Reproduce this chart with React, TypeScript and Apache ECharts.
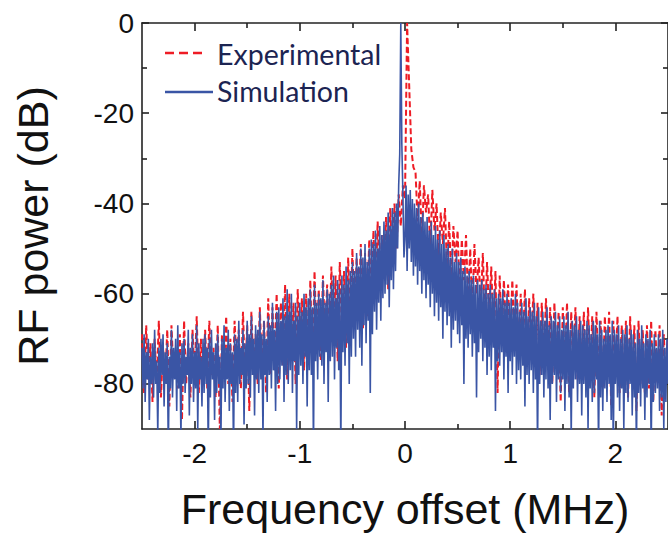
import React, { useEffect, useRef } from "react";
import * as echarts from "echarts";

// Frequency grids of the two traces (MHz)
const expStart = -2.5;
const expStep = 0.02;
const simStart = -2.5;
const simStep = 0.01;

// Experimental RF power (dB), one value per 0.02 MHz
const experimental = [
  -69,-82,-67,-79,-71,-84,-70,-80,-66,-83,
  -72,-80,-68,-85,-67,-78,-73,-81,-69,-88,
  -66,-80,-71,-83,-68,-78,-65,-82,-70,-79,
  -68,-81,-66,-78,-72,-83,-67,-90,-69,-77,
  -65,-80,-70,-84,-66,-76,-68,-81,-64,-79,
  -67,-86,-64,-78,-69,-80,-63,-77,-66,-82,
  -61,-78,-63,-75,-60,-81,-62,-76,-58,-79,
  -60,-75,-62,-80,-59,-73,-61,-77,-60,-74,
  -57,-77,-55,-72,-59,-75,-56,-70,-58,-73,
  -54,-70,-56,-75,-53,-68,-55,-72,-52,-70,
  -50,-67,-52,-64,-49,-68,-51,-65,-48,-63,
  -46,-60,-44,-58,-47,-56,-43,-59,-41,-54,
  -40,-50,-38,-45,-36,-39,0,-14,-28,-32,
  -33,-44,-35,-48,-36,-42,-38,-50,-37,-46,
  -40,-52,-42,-49,-41,-55,-44,-58,-45,-53,
  -46,-60,-48,-57,-47,-62,-50,-64,-49,-60,
  -52,-63,-51,-67,-53,-65,-54,-68,-55,-82,
  -56,-70,-57,-68,-58,-72,-57,-69,-58,-74,
  -60,-72,-59,-76,-61,-71,-60,-74,-62,-78,
  -62,-75,-61,-73,-63,-80,-62,-76,-64,-84,
  -63,-77,-62,-82,-64,-75,-63,-79,-65,-77,
  -64,-80,-63,-77,-65,-83,-64,-78,-66,-81,
  -65,-79,-64,-85,-66,-78,-65,-82,-67,-80,
  -66,-83,-65,-79,-67,-86,-66,-80,-68,-82,
  -67,-81,-66,-84,-68,-80,-67,-87,-69,-80,
  -70,
];

// Simulated RF power (dB), one value per 0.01 MHz
const simulation = [
  -72,-81,-69,-84,-73,-79,-70,-88,-74,-80,
  -71,-83,-68,-80,-75,-91,-72,-82,-70,-78,
  -69,-85,-73,-80,-71,-95,-74,-81,-68,-83,
  -72,-79,-70,-86,-67,-81,-73,-92,-71,-80,
  -70,-82,-74,-78,-68,-87,-72,-80,-69,-84,
  -73,-81,-67,-90,-71,-79,-74,-85,-70,-82,
  -69,-80,-72,-95,-70,-83,-68,-79,-73,-88,
  -71,-82,-69,-80,-74,-93,-70,-81,-67,-84,
  -72,-79,-68,-86,-71,-80,-73,-95,-69,-82,
  -70,-84,-66,-80,-72,-78,-68,-89,-71,-81,
  -66,-80,-69,-83,-65,-78,-70,-87,-67,-79,
  -68,-82,-64,-79,-69,-92,-66,-78,-70,-84,
  -65,-78,-67,-81,-62,-77,-68,-86,-64,-80,
  -63,-79,-66,-76,-61,-84,-65,-78,-59,-80,
  -64,-77,-60,-82,-66,-75,-62,-90,-65,-78,
  -62,-76,-64,-80,-60,-74,-63,-85,-61,-77,
  -59,-78,-63,-95,-58,-75,-62,-79,-60,-74,
  -61,-76,-57,-80,-62,-73,-59,-84,-60,-75,
  -58,-74,-56,-79,-61,-72,-57,-77,-59,-95,
  -56,-73,-58,-76,-54,-71,-57,-80,-55,-74,
  -53,-70,-55,-74,-51,-68,-54,-72,-50,-76,
  -52,-67,-49,-71,-53,-66,-50,-82,-48,-69,
  -49,-64,-46,-68,-50,-62,-45,-66,-47,-61,
  -44,-60,-46,-58,-42,-63,-45,-57,-41,-59,
  -42,-55,-40,-50,-36,-29,0,-27,-38,-52,
  -48,-36,-55,-38,-50,-37,-53,-39,-56,-40,
  -54,-41,-58,-40,-55,-43,-60,-42,-57,-44,
  -61,-43,-58,-46,-63,-44,-60,-47,-65,-45,
  -62,-48,-66,-46,-63,-49,-70,-47,-64,-50,
  -67,-49,-65,-52,-72,-50,-68,-53,-66,-51,
  -69,-53,-71,-52,-67,-55,-80,-54,-70,-56,
  -72,-55,-69,-57,-74,-56,-71,-58,-83,-57,
  -73,-58,-70,-57,-75,-59,-72,-58,-78,-60,
  -74,-58,-77,-60,-72,-59,-86,-61,-75,-60,
  -76,-61,-73,-59,-79,-62,-74,-60,-82,-62,
  -75,-61,-78,-63,-74,-60,-80,-62,-77,-64,
  -79,-62,-76,-64,-85,-61,-78,-65,-80,-63,
  -77,-64,-82,-62,-79,-65,-95,-63,-80,-66,
  -78,-64,-83,-66,-79,-63,-81,-67,-88,-65,
  -80,-66,-78,-64,-84,-67,-79,-65,-82,-68,
  -79,-65,-86,-67,-80,-64,-83,-68,-92,-66,
  -81,-67,-79,-65,-84,-68,-80,-66,-87,-67,
  -80,-68,-83,-66,-90,-67,-81,-69,-84,-66,
  -82,-67,-79,-69,-95,-66,-83,-68,-86,-70,
  -81,-68,-84,-67,-80,-69,-88,-66,-95,-68,
  -80,-69,-83,-67,-86,-70,-81,-68,-90,-69,
  -82,-67,-84,-70,-80,-68,-87,-69,-83,-71,
  -95,-68,-82,-70,-85,-67,-81,-71,-88,-69,
  -83,-70,-80,-68,-95,-71,-84,-69,-82,-72,
  -81,-69,-86,-70,-83,-68,-90,-72,-84,-70,
  -80,
];

const xMajorTicks = [-2, -1, 0, 1, 2];
const xMinorTicks = [-1.5, -0.5, 0.5, 1.5];
const yMajorTicks = [-80, -60, -40, -20, 0];
const yMinorTicks = [-70, -50, -30, -10];

const seriesNames = ["Experimental", "Simulation"];

const RED = "#ee1c25";
const BLUE = "#3a55a5";
const AXIS = "#222222";
const FONT = "'Liberation Sans', Arial, Helvetica, sans-serif";

function toPairs(values: number[], start: number, step: number) {
  return values.map((v, i) => [Math.round((start + i * step) * 1000) / 1000, v]);
}

export default function App() {
  const ref = useRef<HTMLDivElement>(null);

  useEffect(() => {
    if (!ref.current) return;
    const chart = echarts.init(ref.current, undefined, { renderer: "svg" });

    const lineStyle = { color: AXIS, width: 1.6 };
    const xBase = (position: string, ticks: number[], len: number, major: boolean, name?: string) => ({
      type: "value",
      min: -2.5,
      max: 2.5,
      position,
      axisLine: { show: major, onZero: false, lineStyle },
      axisTick: { show: true, inside: true, length: len, customValues: ticks, lineStyle },
      axisLabel: major && position === "bottom"
        ? { show: true, customValues: ticks, fontSize: 28, margin: 10, color: "#111", fontFamily: FONT }
        : { show: false },
      splitLine: { show: false },
      ...(name
        ? {
            name,
            nameLocation: "middle",
            nameGap: 58,
            nameTextStyle: { fontSize: 43, color: "#111", fontFamily: FONT },
          }
        : {}),
    });
    const yBase = (position: string, ticks: number[], len: number, major: boolean, name?: string) => ({
      type: "value",
      min: -90,
      max: 0,
      position,
      axisLine: { show: major, onZero: false, lineStyle },
      axisTick: { show: true, inside: true, length: len, customValues: ticks, lineStyle },
      axisLabel: major && position === "left"
        ? { show: true, customValues: ticks, fontSize: 28, margin: 8, color: "#111", fontFamily: FONT }
        : { show: false },
      splitLine: { show: false },
      ...(name
        ? {
            name,
            nameLocation: "middle",
            nameGap: 88,
            nameRotate: 90,
            nameTextStyle: { fontSize: 43, color: "#111", fontFamily: FONT },
          }
        : {}),
    });

    chart.setOption({
      animation: false,
      backgroundColor: "#ffffff",
      grid: { left: 142, top: 23, right: -6, bottom: 109, containLabel: false },
      xAxis: [
        xBase("bottom", xMajorTicks, 8, true, "Frequency offset (MHz)"),
        xBase("bottom", xMinorTicks, 5, false),
        xBase("top", xMajorTicks, 8, true),
        xBase("top", xMinorTicks, 5, false),
      ],
      yAxis: [
        yBase("left", yMajorTicks, 7, true, "RF power (dB)"),
        yBase("left", yMinorTicks, 5, false),
        yBase("right", yMajorTicks, 7, true),
        yBase("right", yMinorTicks, 5, false),
      ],
      series: [
        {
          name: seriesNames[0],
          type: "line",
          xAxisIndex: 0,
          yAxisIndex: 0,
          data: toPairs(experimental, expStart, expStep),
          showSymbol: false,
          symbol: "none",
          clip: true,
          lineStyle: { color: RED, width: 2, type: [6, 3] },
          z: 2,
        },
        {
          name: seriesNames[1],
          type: "line",
          xAxisIndex: 0,
          yAxisIndex: 0,
          data: toPairs(simulation, simStart, simStep),
          showSymbol: false,
          symbol: "none",
          clip: true,
          lineStyle: { color: BLUE, width: 1.6, join: "bevel" },
          z: 3,
        },
      ],
      graphic: [
        {
          type: "line",
          shape: { x1: 165, y1: 53, x2: 206, y2: 53 },
          style: { stroke: RED, lineWidth: 2.5, lineDash: [9, 5] },
          z: 10,
        },
        {
          type: "line",
          shape: { x1: 165, y1: 92, x2: 213, y2: 92 },
          style: { stroke: BLUE, lineWidth: 2.5 },
          z: 10,
        },
        {
          type: "text",
          x: 217,
          y: 54,
          style: {
            text: seriesNames[0],
            fontSize: 28.5,
            fontFamily: "Lato, 'Open Sans', sans-serif",
            fill: "#1c2452",
            verticalAlign: "middle",
          },
          z: 10,
        },
        {
          type: "text",
          x: 217,
          y: 91,
          style: {
            text: seriesNames[1],
            fontSize: 28.5,
            fontFamily: "Lato, 'Open Sans', sans-serif",
            fill: "#1c2452",
            verticalAlign: "middle",
          },
          z: 10,
        },
      ],
    });

    return () => chart.dispose();
  }, []);

  return (
    <div
      ref={ref}
      style={{ position: "fixed", left: 0, top: 0, width: 668, height: 538, background: "#fff" }}
    />
  );
}
